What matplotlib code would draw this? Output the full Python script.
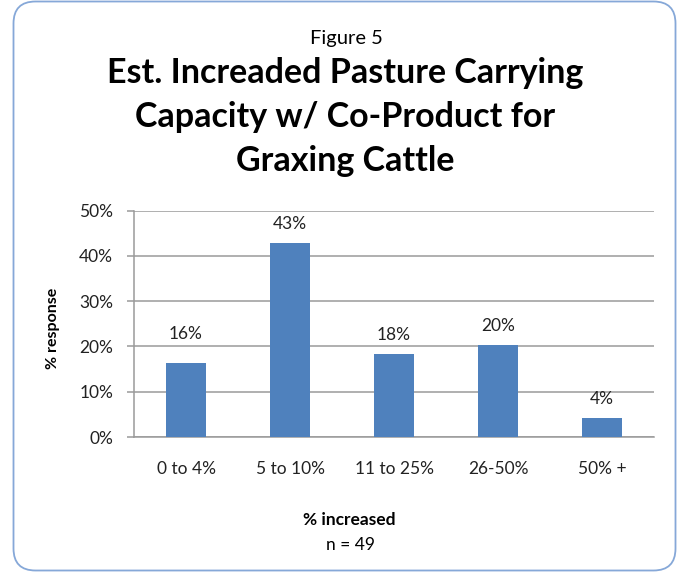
import matplotlib.pyplot as plt
from matplotlib.patches import FancyBboxPatch
from matplotlib.transforms import IdentityTransform
from matplotlib.ticker import PercentFormatter

# Data
categories = ["0 to 4%", "5 to 10%", "11 to 25%", "26-50%", "50% +"]
responses = [16.3, 42.9, 18.4, 20.4, 4.3]
value_labels = ["16%", "43%", "18%", "20%", "4%"]

plt.rcParams['font.family'] = ['Lato', 'DejaVu Sans']

fig = plt.figure(figsize=(6.77, 5.72), dpi=100)

# rounded chart border
border = FancyBboxPatch((13.5, 1.5), 662, 569, boxstyle="round,pad=0,rounding_size=22",
                        transform=IdentityTransform(), facecolor="white",
                        edgecolor="#86A8D8", linewidth=1.3, zorder=-1)
fig.patches.append(border)

ax = fig.add_axes([0.198, 0.236, 0.768, 0.3956])
x = range(len(categories))
bars = ax.bar(x, responses, width=0.39, color="#4F81BD", zorder=3)

# value labels (first one sits a bit higher in the original)
lift = [21, 11, 11, 11, 11]
for i, bar in enumerate(bars):
    ax.annotate(value_labels[i], (bar.get_x() + bar.get_width() / 2, bar.get_height()),
                xytext=(0, lift[i]), textcoords="offset pixels",
                ha="center", va="bottom", fontsize=12.5, color="#222222")

ax.set_xlim(-0.5, len(categories) - 0.5)
ax.set_ylim(0, 50)
ax.set_yticks(range(0, 51, 10))
ax.yaxis.set_major_formatter(PercentFormatter(decimals=0))
ax.set_xticks(list(x))
ax.set_xticklabels(categories)
ax.grid(axis="y", color="#9A9A9A", linewidth=1.1, zorder=0)

for side in ["top", "right"]:
    ax.spines[side].set_visible(False)
for side in ["left", "bottom"]:
    ax.spines[side].set_color("#9A9A9A")
    ax.spines[side].set_linewidth(1.1)

ax.tick_params(axis="y", length=5, color="#9A9A9A", width=1.1, labelsize=12.5, pad=10, labelcolor="#222222")
ax.tick_params(axis="x", length=0, labelsize=12.5, pad=17, labelcolor="#222222")

ax.set_ylabel("% response", fontsize=11.5, fontweight="bold")
ax.yaxis.set_label_coords(-0.143, 0.48)

fig.text(0.511, 0.933, "Figure 5", ha="center", va="center", fontsize=14.5)
fig.text(0.51, 0.796,
         "Est. Increaded Pasture Carrying\nCapacity w/ Co-Product for\nGraxing Cattle",
         ha="center", va="center", fontsize=24.5, fontweight="bold", linespacing=1.46)
fig.text(0.516, 0.091, "% increased", ha="center", va="center", fontsize=12.5, fontweight="bold")
fig.text(0.517, 0.047, "n = 49", ha="center", va="center", fontsize=12.5)

fig.savefig("out.png", dpi=100)
